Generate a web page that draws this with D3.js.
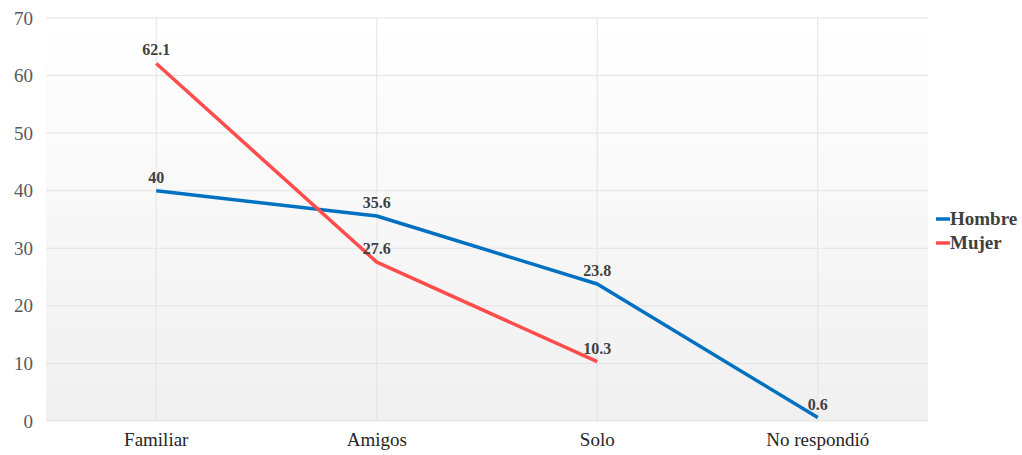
<!DOCTYPE html>
<html><head><meta charset="utf-8">
<script src="https://cdn.jsdelivr.net/npm/d3@7"></script>
<style>body{margin:0;background:#fff} text{font-family:'Liberation Serif','Times New Roman',serif}</style>
</head><body>
<svg id="c" width="1022" height="455"></svg>
<script>
const categories = ["Familiar", "Amigos", "Solo", "No respondió"];
const hombre = [40, 35.6, 23.8, 0.6];
const mujer = [62.1, 27.6, 10.3, null];
const yTicks = [0, 10, 20, 30, 40, 50, 60, 70];
const seriesNames = ["Hombre", "Mujer"];
const seriesColors = ["#0070c0", "#ff4d4d"];

const svg = d3.select("#c");
const m = {l: 46, r: 928, t: 18, b: 421};
const x = d3.scaleBand().domain(categories).range([m.l, m.r]);
const y = d3.scaleLinear().domain([0, 70]).range([m.b, m.t]);
const cx = d => x(d) + x.bandwidth() / 2;
const FONT = "'Liberation Serif','Times New Roman',serif";

const defs = svg.append("defs");
const g = defs.append("linearGradient").attr("id", "bg").attr("x1", 0).attr("y1", 0).attr("x2", 0).attr("y2", 1);
g.append("stop").attr("offset", "0%").attr("stop-color", "#ffffff");
g.append("stop").attr("offset", "100%").attr("stop-color", "#f0f0f0");
svg.append("rect").attr("x", m.l).attr("y", m.t).attr("width", m.r - m.l).attr("height", m.b - m.t).attr("fill", "url(#bg)");

// grid
svg.append("g").selectAll("line").data(yTicks).join("line")
  .attr("x1", m.l).attr("x2", m.r).attr("y1", d => y(d)).attr("y2", d => y(d))
  .attr("stroke", "#e3e3e3").attr("stroke-width", 1);
svg.append("g").selectAll("line").data(categories).join("line")
  .attr("x1", d => cx(d)).attr("x2", d => cx(d)).attr("y1", m.t).attr("y2", m.b)
  .attr("stroke", "#e3e3e3").attr("stroke-width", 1);

// y axis labels
const ya = svg.append("g").attr("transform", `translate(${m.l},0)`)
  .call(d3.axisLeft(y).tickValues(yTicks).tickSize(0).tickPadding(13));
ya.select(".domain").remove();
ya.attr("font-family", null);
ya.selectAll("text").style("font-family", FONT).style("font-size", "19px").attr("fill", "#595959");

// x axis labels
const xa = svg.append("g").attr("transform", `translate(0,${m.b})`)
  .call(d3.axisBottom(x).tickSize(0).tickPadding(12));
xa.select(".domain").remove();
xa.attr("font-family", null);
xa.selectAll("text").style("font-family", FONT).style("font-size", "19px").attr("fill", "#262626");

const data = [hombre, mujer];
const line = d3.line().defined(d => d.v != null).x(d => cx(d.c)).y(d => y(d.v));
data.forEach((s, i) => {
  const pts = categories.map((c, j) => ({c, v: s[j]}));
  svg.append("path").datum(pts).attr("d", line).attr("fill", "none")
    .attr("stroke", seriesColors[i]).attr("stroke-width", 3.5).attr("stroke-linejoin", "round");
});
data.forEach((s, i) => {
  const pts = categories.map((c, j) => ({c, v: s[j]})).filter(d => d.v != null);
  svg.append("g").selectAll("text").data(pts).join("text")
    .attr("x", d => cx(d.c)).attr("y", d => y(d.v) - 8)
    .attr("text-anchor", "middle").style("font-family", FONT)
    .attr("font-weight", "bold").style("font-size", "16px").attr("fill", "#404040")
    .text(d => d.v);
});

// legend
const lg = svg.append("g").selectAll("g").data(seriesNames).join("g")
  .attr("transform", (d, i) => `translate(936,${219 + i * 24})`);
lg.append("line").attr("x1", 0).attr("x2", 14).attr("y1", 0).attr("y2", 0)
  .attr("stroke", (d, i) => seriesColors[i]).attr("stroke-width", 3.5);
lg.append("text").attr("x", 14).attr("y", 6).style("font-family", FONT)
  .attr("font-weight", "bold").style("font-size", "19px").attr("fill", "#404040").text(d => d);
</script>
</body></html>
